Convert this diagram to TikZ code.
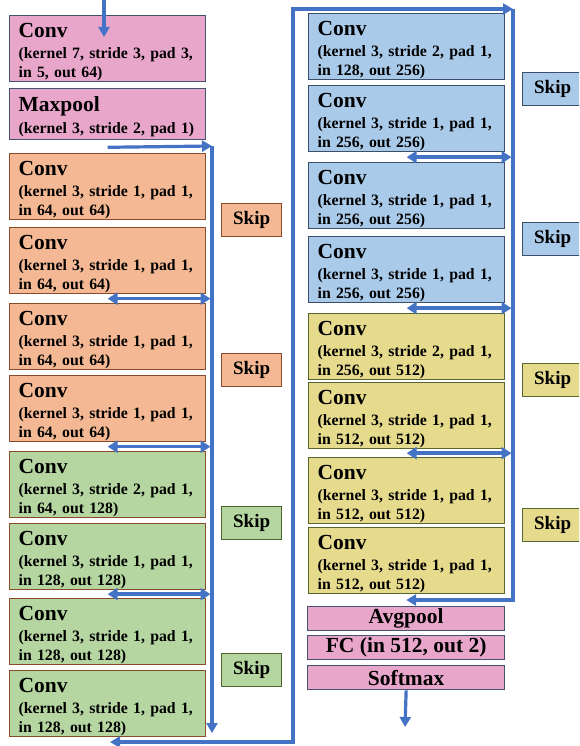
\documentclass[tikz,border=0pt]{standalone}
\usepackage{fontspec}
\setmainfont{Liberation Serif}
\usetikzlibrary{arrows.meta,calc}

\definecolor{pinkbox}{HTML}{E9A6CB}
\definecolor{pinkline}{HTML}{45546E}
\definecolor{orangebox}{HTML}{F4B994}
\definecolor{brownline}{HTML}{8A4B2A}
\definecolor{greenbox}{HTML}{B5D5A1}
\definecolor{greenline}{HTML}{4E6230}
\definecolor{bluebox}{HTML}{AACAE9}
\definecolor{blueline}{HTML}{3C4F68}
\definecolor{yellowbox}{HTML}{E6DA8D}
\definecolor{oliveline}{HTML}{55672E}
\definecolor{flowblue}{HTML}{4472C4}

\newcommand{\ttl}{\fontsize{21.5}{24}\selectfont}
\newcommand{\blkend}{\endgraf\vspace{-6pt}}

\begin{document}
\begin{tikzpicture}[x=1pt,y=-1pt,
	every node/.append style={font=\bfseries\fontsize{15.8}{19}\selectfont},
	blk/.style={draw, line width=1.3pt, anchor=north west, minimum width=196, minimum height=66,
		text width=178, inner xsep=9, inner ysep=0, align=left, execute at end node=\blkend},
	pinkb/.style={blk, fill=pinkbox, draw=pinkline},
	orangeb/.style={blk, fill=orangebox, draw=brownline},
	greenb/.style={blk, fill=greenbox, draw=brownline},
	blueb/.style={blk, fill=bluebox, draw=blueline},
	yellowb/.style={blk, fill=yellowbox, draw=oliveline},
	headbox/.style={draw=pinkline, fill=pinkbox, line width=1.3pt, anchor=north west, minimum width=197,
		minimum height=24, inner sep=0, font=\bfseries\ttl},
	skipbox/.style={draw, line width=1.3pt, anchor=north west, minimum width=60, minimum height=33,
		inner sep=0, font=\bfseries\fontsize{19}{22}\selectfont},
	flow/.style={draw=flowblue, line width=3.2pt, -{Triangle[length=10pt,width=11pt]}},
	dflow/.style={draw=flowblue, line width=3.6pt, {Triangle[length=10pt,width=12pt]}-{Triangle[length=10pt,width=12pt]}}
]
	\useasboundingbox (0,0) rectangle (579,746);
	\clip (0,0) rectangle (579,746);

	\node[pinkb] (conv0) at (9,15) {{\ttl Conv}\\[2pt](kernel 7, stride 3, pad 3,\\in 5, out 64)};
	\node[pinkb, minimum height=51] (pool0) at (9,88) {{\ttl Maxpool}\\[3pt](kernel 3, stride 2, pad 1)};

	\node[orangeb] (l1a) at (9,153) {{\ttl Conv}\\[2pt](kernel 3, stride 1, pad 1,\\in 64, out 64)};
	\node[orangeb] (l1b) at (9,227) {{\ttl Conv}\\[2pt](kernel 3, stride 1, pad 1,\\in 64, out 64)};
	\node[orangeb] (l1c) at (9,303) {{\ttl Conv}\\[2pt](kernel 3, stride 1, pad 1,\\in 64, out 64)};
	\node[orangeb] (l1d) at (9,375) {{\ttl Conv}\\[2pt](kernel 3, stride 1, pad 1,\\in 64, out 64)};

	\node[greenb] (l2a) at (9,451) {{\ttl Conv}\\[2pt](kernel 3, stride 2, pad 1,\\in 64, out 128)};
	\node[greenb] (l2b) at (9,523) {{\ttl Conv}\\[2pt](kernel 3, stride 1, pad 1,\\in 128, out 128)};
	\node[greenb] (l2c) at (9,598) {{\ttl Conv}\\[2pt](kernel 3, stride 1, pad 1,\\in 128, out 128)};
	\node[greenb] (l2d) at (9,670) {{\ttl Conv}\\[2pt](kernel 3, stride 1, pad 1,\\in 128, out 128)};

	\node[blueb] (l3a) at (308,13) {{\ttl Conv}\\[2pt](kernel 3, stride 2, pad 1,\\in 128, out 256)};
	\node[blueb] (l3b) at (308,85) {{\ttl Conv}\\[2pt](kernel 3, stride 1, pad 1,\\in 256, out 256)};
	\node[blueb] (l3c) at (308,162) {{\ttl Conv}\\[2pt](kernel 3, stride 1, pad 1,\\in 256, out 256)};
	\node[blueb] (l3d) at (308,236) {{\ttl Conv}\\[2pt](kernel 3, stride 1, pad 1,\\in 256, out 256)};

	\node[yellowb] (l4a) at (308,313) {{\ttl Conv}\\[2pt](kernel 3, stride 2, pad 1,\\in 256, out 512)};
	\node[yellowb] (l4b) at (308,382) {{\ttl Conv}\\[2pt](kernel 3, stride 1, pad 1,\\in 512, out 512)};
	\node[yellowb] (l4c) at (308,457) {{\ttl Conv}\\[2pt](kernel 3, stride 1, pad 1,\\in 512, out 512)};
	\node[yellowb] (l4d) at (308,527) {{\ttl Conv}\\[2pt](kernel 3, stride 1, pad 1,\\in 512, out 512)};

	\node[headbox] (avg) at (307,606) {Avgpool};
	\node[headbox] (fc) at (307,635) {FC (in 512, out 2)};
	\node[headbox] (soft) at (307,665) {Softmax};

	\node[skipbox, fill=orangebox, draw=brownline] (sk1a) at (221,203) {Skip};
	\node[skipbox, fill=orangebox, draw=brownline] (sk1b) at (221,353) {Skip};
	\node[skipbox, fill=greenbox, draw=greenline] (sk2a) at (221,506) {Skip};
	\node[skipbox, fill=greenbox, draw=greenline] (sk2b) at (221,653) {Skip};
	\node[skipbox, fill=bluebox, draw=blueline] (sk3a) at (522,72) {Skip};
	\node[skipbox, fill=bluebox, draw=blueline] (sk3b) at (522,222) {Skip};
	\node[skipbox, fill=yellowbox, draw=oliveline] (sk4a) at (522,363) {Skip};
	\node[skipbox, fill=yellowbox, draw=oliveline] (sk4b) at (522,508) {Skip};

	\coordinate (in) at (104,0);
	\coordinate (busA) at (212,146);
	\coordinate (busB) at (212,733);
	\coordinate (loopA) at (110,742);
	\coordinate (loopB) at (293,742);
	\coordinate (loopC) at (293,9);
	\coordinate (busC) at (513,9);
	\coordinate (busD) at (513,600);
	\coordinate (out) at (405,727);

	\draw[flow] (in) -- ([yshift=-22pt]in |- conv0.north);
	\draw[flow] ([yshift=-7pt]pool0.south) -- (busA);
	\draw[flow] (busA) -- (busB);
	\draw[flow, {Triangle[length=10pt,width=11pt]}-{Triangle[length=10pt,width=11pt]}] (loopA) -- (loopB) -- (loopC) -- (busC);
	\draw[flow] (busC) -- (busD) -- (busD -| avg.north);
	\draw[flow] (soft.south) -- (out);

	\coordinate (j1) at ($(l1b.south)!.5!(l1c.north)$);
	\coordinate (j2) at ($(l1d.south)!.5!(l2a.north)$);
	\coordinate (j3) at ($(l2b.south)!.5!(l2c.north)$);
	\coordinate (j4) at ($(l3b.south)!.5!(l3c.north)$);
	\coordinate (j5) at ($(l3d.south)!.5!(l4a.north)$);
	\coordinate (j6) at ($(l4b.south)!.5!(l4c.north)$);
	\draw[dflow] (j1) -- ([xshift=-1.5pt]j1 -| busA);
	\draw[dflow] (j2) -- ([xshift=-1.5pt]j2 -| busA);
	\draw[dflow] (j3) -- ([xshift=-1.5pt]j3 -| busA);
	\draw[dflow] (j4) -- ([xshift=-1.5pt]j4 -| busC);
	\draw[dflow] (j5) -- ([xshift=-1.5pt]j5 -| busC);
	\draw[dflow] (j6) -- ([xshift=-1.5pt]j6 -| busC);
\end{tikzpicture}
\end{document}
